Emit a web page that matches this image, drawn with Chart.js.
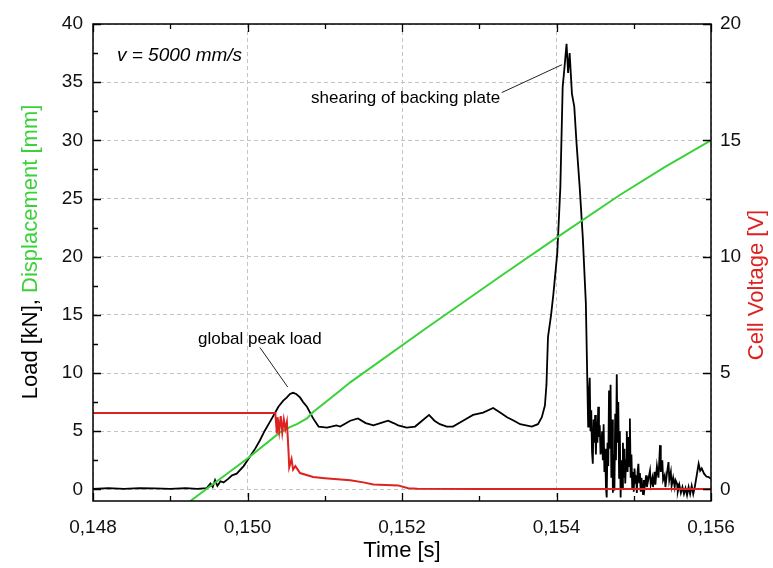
<!DOCTYPE html>
<html>
<head>
<meta charset="utf-8">
<script src="https://cdn.jsdelivr.net/npm/chart.js@4.4.1/dist/chart.umd.min.js"></script>
<style>
  html, body { margin: 0; padding: 0; background: #fff; }
</style>
</head>
<body>
<canvas id="chart" width="773" height="568"></canvas>
<script>
// load [kN] vs time [s]
const loadTime = [
  0.1480, 0.1482, 0.1484, 0.1486, 0.1488, 0.1490, 0.1492, 0.14935, 0.14947, 0.14952,
  0.14955, 0.14958, 0.14961, 0.14965, 0.14969, 0.14975, 0.14980, 0.14986, 0.14995, 0.15003,
  0.15010, 0.15016, 0.15022, 0.15029, 0.15035, 0.15040, 0.15046, 0.15051, 0.15055, 0.15059,
  0.15063, 0.15068, 0.15072, 0.15077, 0.15081, 0.15085, 0.15092, 0.15103, 0.15115, 0.15120,
  0.15133, 0.15143, 0.15153, 0.15163, 0.15172, 0.15182, 0.15189, 0.15195, 0.15206, 0.15217,
  0.15226, 0.15235, 0.15242, 0.15249, 0.15258, 0.15266, 0.15279, 0.15292, 0.15305, 0.15318,
  0.15327, 0.15336, 0.15345, 0.15353, 0.15368, 0.15376, 0.15381, 0.15385, 0.15387, 0.15389,
  0.15393, 0.15396, 0.15401, 0.15405, 0.15408, 0.15410, 0.15413, 0.15415, 0.15417, 0.15420,
  0.15423, 0.15426, 0.15430, 0.15434, 0.15438,
  0.15441, 0.15442, 0.15443, 0.15444, 0.15445, 0.15446, 0.15447, 0.15448, 0.15449, 0.15450,
  0.15451, 0.15452, 0.15453, 0.15454, 0.15455, 0.15456, 0.15457, 0.15458, 0.15459, 0.15460,
  0.15461, 0.15462, 0.15463, 0.15464, 0.15465, 0.15466, 0.15467, 0.15468, 0.15469, 0.15470,
  0.15471, 0.15472, 0.15473, 0.15474, 0.15475, 0.15476, 0.15477, 0.15478, 0.15479, 0.15480,
  0.15481, 0.15482, 0.15483, 0.15484, 0.15485, 0.15486, 0.15487, 0.15488, 0.15489,
  0.15490, 0.15491, 0.15492, 0.15493, 0.15494, 0.15495, 0.15496, 0.15497, 0.15498, 0.15499,
  0.15500, 0.15501, 0.15502, 0.15503, 0.15504, 0.15505, 0.15506, 0.15507, 0.15508, 0.15509,
  0.15510, 0.15511, 0.15512, 0.15513, 0.15514, 0.15516, 0.15517, 0.15519, 0.15521, 0.15522,
  0.15524, 0.15525, 0.15527, 0.15528, 0.15530, 0.15532, 0.15534, 0.15535, 0.15537, 0.15538,
  0.15540, 0.15541, 0.15543, 0.15545, 0.15546, 0.15548, 0.15549, 0.15551, 0.15553, 0.15554,
  0.15556, 0.15557, 0.15559, 0.15561, 0.15563, 0.15565, 0.15567, 0.15569, 0.15571, 0.15573,
  0.15575, 0.15577, 0.15579, 0.15581, 0.15584, 0.15586, 0.15588, 0.15591, 0.15594, 0.15597,
  0.15600
];
const loadValue = [
  0.05, 0.1, 0.05, 0.1, 0.08, 0.05, 0.1, 0.05, 0.1, 0.5,
  0.2, 0.8, 0.3, 0.7, 0.6, 0.9, 1.2, 1.35, 2.0, 2.8,
  3.5, 4.2, 5.0, 5.8, 6.5, 7.1, 7.6, 7.9, 8.2, 8.3,
  8.2, 7.9, 7.5, 7.1, 6.6, 6.1, 5.4, 5.3, 5.5, 5.4,
  5.9, 6.1, 5.7, 5.5, 5.7, 5.9, 5.7, 5.5, 5.3, 5.4,
  5.9, 6.4, 5.9, 5.6, 5.4, 5.4, 5.9, 6.4, 6.6, 7.0,
  6.6, 6.2, 5.9, 5.6, 5.4, 5.6, 6.2, 7.2, 9.0, 13.1,
  15.0, 16.8, 20.3, 26.0, 34.6, 36.0, 38.3, 35.8, 37.5, 34.0,
  32.9, 29.7, 26.0, 21.7, 16.0,
  5.4, 8.2, 9.6, 5.0, 6.8, 3.2, 2.2, 6.0, 4.0, 6.4,
  3.0, 5.8, 4.0, 7.1, 4.5, 5.5, 3.0, 3.4, 5.0, 2.5,
  5.6, 1.5, 3.5, 0.2, -0.7, 4.0, 2.0, 8.5, 3.5, 9.0,
  1.0, 6.0, -0.3, 3.0, -0.1, 6.5, 2.5, 9.9, 4.0, 7.5,
  1.0, 5.0, -0.7, 2.5, 0.2, 4.0, 1.0, 3.5, 0.5,
  2.5, 5.0, 1.5, 4.5, 2.0, 6.1, 1.0, 3.0, 0.2, 1.5,
  -0.2, 1.8, 0.5, 1.2, -0.3, 1.5, 2.2, 0.6, 1.4, -0.2,
  1.0, 0.2, -0.4, 0.8, 0.1, 1.2, 0.2, 0.9, 1.6, 0.4,
  1.0, 0.2, 1.5, 0.4, 2.0, 1.0, 3.8, 1.5, 2.5, 0.8,
  1.2, 0.2, 1.4, 2.35, 0.8, 1.5, 0.3, 1.0, 0.2, 0.8,
  0.5, -0.2, 0.4, -0.3, 0.2, -0.4, 0.1, -0.5, 0.2, -0.4,
  0.3, -0.4, 0.2, 1.0, 2.2, 1.6, 1.8, 1.35, 1.1, 1.05,
  0.9
];

// displacement [mm] vs time [s]
const dispTime = [0.14926, 0.1500, 0.15042, 0.15055, 0.15064, 0.15077, 0.15085, 0.15120, 0.15133, 0.15228, 0.15327, 0.15405, 0.15482, 0.15540, 0.1560];
const dispValue = [-1.0, 2.65, 4.9, 5.35, 5.6, 6.1, 6.65, 8.5, 9.2, 13.7, 18.3, 21.85, 25.3, 27.7, 30.0];

// cell voltage [V] vs time [s]
const voltTime = [
  0.1480, 0.15036, 0.15038, 0.15039, 0.15041, 0.15043, 0.15045, 0.15047, 0.15049, 0.15051,
  0.15053, 0.15054, 0.15057, 0.15059, 0.15062, 0.15068, 0.15085, 0.15100, 0.15133, 0.15150,
  0.15163, 0.15195, 0.15208, 0.15220, 0.15300, 0.15600
];
const voltValue = [
  3.28, 3.28, 2.4, 3.1, 2.5, 3.15, 2.45, 3.0, 2.6, 2.9,
  1.7, 0.95, 1.3, 0.85, 1.0, 0.7, 0.53, 0.48, 0.39, 0.3,
  0.21, 0.17, 0.05, 0.03, 0.02, 0.02
];

const xTicks = [0.148, 0.150, 0.152, 0.154, 0.156];
const xMinor = [0.149, 0.151, 0.153, 0.155];
const yTicks = [0, 5, 10, 15, 20, 25, 30, 35, 40];
const yMinor = [2.5, 7.5, 12.5, 17.5, 22.5, 27.5, 32.5, 37.5];
const y1Ticks = [0, 5, 10, 15, 20];
const y1Minor = [2.5, 7.5, 12.5, 17.5];

const GREEN = '#3ad13a';
const RED = '#dd2222';
const FONT = "'Liberation Sans', Arial, sans-serif";

function pts(xs, ys) { return xs.map((x, i) => ({ x: x, y: ys[i] })); }

function txt(ctx, s, x, y, font, color, align, rot) {
  ctx.save();
  ctx.translate(x, y);
  if (rot) ctx.rotate(rot);
  ctx.font = font;
  ctx.fillStyle = color;
  ctx.textAlign = align || 'left';
  ctx.textBaseline = 'middle';
  ctx.fillText(s, 0, 0);
  ctx.restore();
}

const framePlugin = {
  id: 'frame',
  afterDraw(chart) {
    const ctx = chart.ctx;
    const a = chart.chartArea;
    const sx = chart.scales.x, sy = chart.scales.y, sy1 = chart.scales.y1;
    ctx.save();
    ctx.strokeStyle = '#000';
    ctx.lineWidth = 1.5;
    ctx.strokeRect(a.left, a.top, a.right - a.left, a.bottom - a.top);
    ctx.lineWidth = 1.3;
    ctx.beginPath();
    const tickX = (v, len) => {
      const p = Math.round(sx.getPixelForValue(v)) + 0.5;
      ctx.moveTo(p, a.bottom); ctx.lineTo(p, a.bottom - len);
      ctx.moveTo(p, a.top); ctx.lineTo(p, a.top + len);
    };
    xTicks.forEach(v => tickX(v, 8));
    xMinor.forEach(v => tickX(v, 5));
    const tickY = (scale, v, len, left) => {
      const p = Math.round(scale.getPixelForValue(v)) + 0.5;
      if (left) { ctx.moveTo(a.left, p); ctx.lineTo(a.left + len, p); }
      else { ctx.moveTo(a.right, p); ctx.lineTo(a.right - len, p); }
    };
    yTicks.forEach(v => tickY(sy, v, 8, true));
    yMinor.forEach(v => tickY(sy, v, 5, true));
    y1Ticks.forEach(v => tickY(sy1, v, 8, false));
    y1Minor.forEach(v => tickY(sy1, v, 5, false));
    ctx.stroke();

    // leader lines
    ctx.lineWidth = 1;
    ctx.strokeStyle = '#222';
    ctx.beginPath();
    ctx.moveTo(sx.getPixelForValue(0.15016), sy.getPixelForValue(12.2));
    ctx.lineTo(sx.getPixelForValue(0.15052), sy.getPixelForValue(8.8));
    ctx.moveTo(sx.getPixelForValue(0.15329), sy.getPixelForValue(34.1));
    ctx.lineTo(sx.getPixelForValue(0.15407), sy.getPixelForValue(36.5));
    ctx.stroke();
    ctx.restore();

    // annotations
    txt(ctx, 'v = 5000 mm/s', sx.getPixelForValue(0.14831), sy.getPixelForValue(37.3), 'italic 19px ' + FONT, '#000', 'left');
    txt(ctx, 'global peak load', sx.getPixelForValue(0.15016), sy.getPixelForValue(12.9), '17px ' + FONT, '#000', 'center');
    txt(ctx, 'shearing of backing plate', sx.getPixelForValue(0.15327), sy.getPixelForValue(33.6), '17px ' + FONT, '#000', 'right');

    // axis titles
    const tf = '22px ' + FONT;
    ctx.save();
    ctx.font = tf;
    const p1 = 'Load [kN], ', p2 = 'Displacement [mm]';
    const w1 = ctx.measureText(p1).width, w2 = ctx.measureText(p2).width;
    ctx.restore();
    const cy = 252, cx = 31;
    const start = cy + (w1 + w2) / 2;
    txt(ctx, p1, cx, start, tf, '#000', 'left', -Math.PI / 2);
    txt(ctx, p2, cx, start - w1, tf, GREEN, 'left', -Math.PI / 2);
    txt(ctx, 'Cell Voltage [V]', 757, 285, tf, RED, 'center', -Math.PI / 2);
    txt(ctx, 'Time [s]', (a.left + a.right) / 2, 551, tf, '#000', 'center');
  }
};

Chart.defaults.font.family = FONT;

new Chart(document.getElementById('chart'), {
  type: 'line',
  data: {
    datasets: [
      {
        label: 'Cell Voltage',
        data: pts(voltTime, voltValue),
        yAxisID: 'y1',
        borderColor: RED,
        borderWidth: 2,
        order: 0
      },
      {
        label: 'Displacement',
        data: pts(dispTime, dispValue),
        yAxisID: 'y',
        borderColor: GREEN,
        borderWidth: 2,
        order: 1
      },
      {
        label: 'Load',
        data: pts(loadTime, loadValue),
        yAxisID: 'y',
        borderColor: '#000',
        borderWidth: 1.8,
        order: 2
      }
    ]
  },
  options: {
    responsive: false,
    animation: false,
    devicePixelRatio: 1,
    layout: { padding: { top: 24, left: 0, right: 0, bottom: 0 } },
    elements: { point: { radius: 0 }, line: { tension: 0 } },
    plugins: { legend: { display: false }, tooltip: { enabled: false } },
    scales: {
      x: {
        type: 'linear',
        min: 0.148,
        max: 0.156,
        afterBuildTicks: s => { s.ticks = xTicks.map(v => ({ value: v })); },
        afterFit: s => { s.height = 67; },
        ticks: {
          callback: v => v.toFixed(3).replace('.', ','),
          font: { size: 19 },
          color: '#111',
          padding: 15,
          maxRotation: 0
        },
        grid: { color: '#c4c4c4', lineWidth: 1, drawTicks: false },
        border: { display: false, dash: [4, 3] }
      },
      y: {
        position: 'left',
        min: -1,
        max: 40,
        afterBuildTicks: s => { s.ticks = yTicks.map(v => ({ value: v })); },
        afterFit: s => { s.width = 93; },
        ticks: { font: { size: 19 }, color: '#111', padding: 10 },
        grid: { color: '#c4c4c4', lineWidth: 1, drawTicks: false },
        border: { display: false, dash: [4, 3] }
      },
      y1: {
        position: 'right',
        min: -0.5,
        max: 20,
        afterBuildTicks: s => { s.ticks = y1Ticks.map(v => ({ value: v })); },
        afterFit: s => { s.width = 62; },
        ticks: { font: { size: 19 }, color: '#111', padding: 9 },
        grid: { display: false, drawTicks: false },
        border: { display: false }
      }
    }
  },
  plugins: [framePlugin]
});
</script>
</body>
</html>
